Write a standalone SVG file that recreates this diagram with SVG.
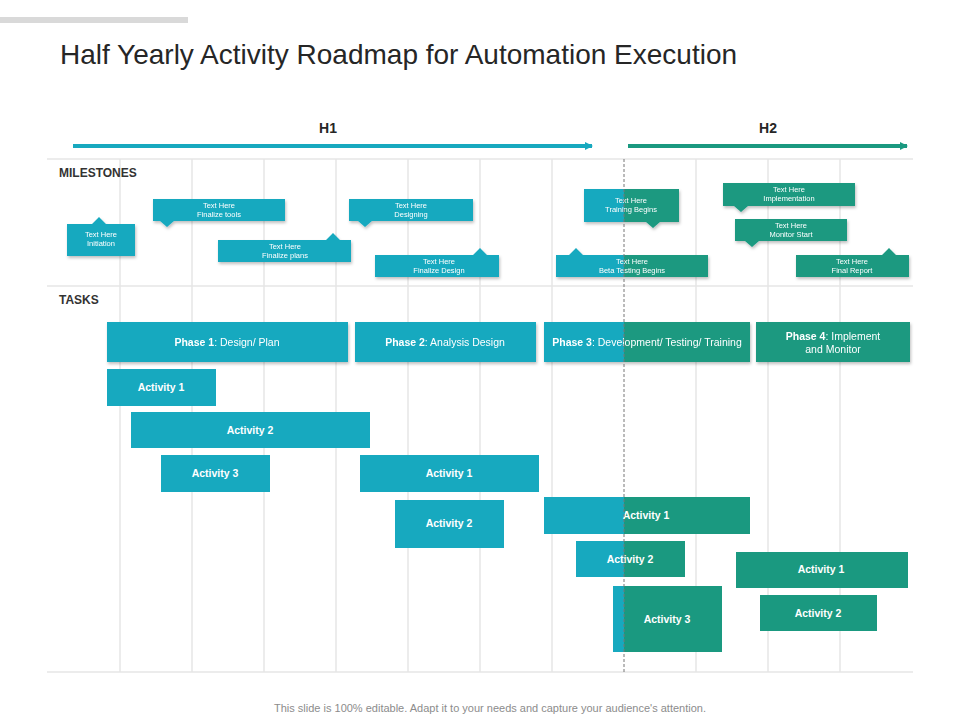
<svg xmlns="http://www.w3.org/2000/svg" width="960" height="720" viewBox="0 0 960 720">
<defs>
<filter id="sh" x="-10%" y="-20%" width="120%" height="150%"><feDropShadow dx="1" dy="2" stdDeviation="1.5" flood-color="#000" flood-opacity="0.25"/></filter>
<marker id="ab" markerWidth="8" markerHeight="8" refX="7" refY="4" orient="auto" markerUnits="userSpaceOnUse"><path d="M0,0 L8,4 L0,8 Z" fill="#17A9BF"/></marker>
<marker id="ag" markerWidth="8" markerHeight="8" refX="7" refY="4" orient="auto" markerUnits="userSpaceOnUse"><path d="M0,0 L8,4 L0,8 Z" fill="#1A9980"/></marker>
</defs>
<style>
text{font-family:"Liberation Sans",Arial,sans-serif}
.b{fill:#17A9BF}.g{fill:#1A9980}
.ms{fill:#fff;font-size:7.5px;text-anchor:middle}
.tk{fill:#fff;font-size:10.5px;font-weight:bold;text-anchor:middle}
.ph{fill:#fff;font-size:10.5px;text-anchor:middle}
.grid line{stroke:#E6E6E6;stroke-width:1.5}
</style>
<rect width="960" height="720" fill="#fff"/>
<rect x="0" y="17" width="188" height="6" fill="#D9D9D9"/>
<text x="60" y="64" font-size="28" fill="#262626">Half Yearly Activity Roadmap for Automation  Execution</text>
<g class="grid">
<line x1="120" y1="159" x2="120" y2="672"/><line x1="192" y1="159" x2="192" y2="672"/><line x1="264" y1="159" x2="264" y2="672"/><line x1="336" y1="159" x2="336" y2="672"/><line x1="408" y1="159" x2="408" y2="672"/><line x1="480" y1="159" x2="480" y2="672"/><line x1="552" y1="159" x2="552" y2="672"/><line x1="696" y1="159" x2="696" y2="672"/><line x1="768" y1="159" x2="768" y2="672"/><line x1="840" y1="159" x2="840" y2="672"/>
<line x1="47" y1="159" x2="913" y2="159"/><line x1="47" y1="286" x2="913" y2="286"/><line x1="47" y1="672" x2="913" y2="672"/>
</g>
<g id="connectors">
<line x1="73" y1="146" x2="592" y2="146" stroke="#17A9BF" stroke-width="4" marker-end="url(#ab)"/>
<line x1="628" y1="146" x2="907" y2="146" stroke="#1A9980" stroke-width="4" marker-end="url(#ag)"/>
</g>
<text x="328" y="133" font-size="14" font-weight="bold" fill="#262626" text-anchor="middle">H1</text>
<text x="768" y="133" font-size="14" font-weight="bold" fill="#262626" text-anchor="middle">H2</text>
<text x="59" y="177" font-size="12" font-weight="bold" fill="#333">MILESTONES</text>
<text x="59" y="304" font-size="12" font-weight="bold" fill="#333">TASKS</text>

<g id="m-initiation" filter="url(#sh)"><path class="b" d="M67,224 H92 L99,217 L106,224 H135 V256 H67 Z"/><text class="ms" x="101" y="237">Text Here</text><text class="ms" x="101" y="246">Initiation</text></g>
<g id="m-tools" filter="url(#sh)"><path class="b" d="M153,199 H285 V221 H174 L167,227 L160,221 H153 Z"/><text class="ms" x="219" y="208">Text Here</text><text class="ms" x="219" y="217">Finalize tools</text></g>
<g id="m-plans" filter="url(#sh)"><path class="b" d="M218,240 H326 L333,233 L340,240 H351 V262 H218 Z"/><text class="ms" x="285" y="249">Text Here</text><text class="ms" x="285" y="258">Finalize plans</text></g>
<g id="m-designing" filter="url(#sh)"><path class="b" d="M349,199 H473 V221 H372 L365,227 L358,221 H349 Z"/><text class="ms" x="411" y="208">Text Here</text><text class="ms" x="411" y="217">Designing</text></g>
<g id="m-fdesign" filter="url(#sh)"><path class="b" d="M375,255 H473 L480,248 L487,255 H499 V277 H375 Z"/><text class="ms" x="439" y="264">Text Here</text><text class="ms" x="439" y="273">Finalize Design</text></g>
<g id="m-training" filter="url(#sh)"><path class="b" d="M584,189 H624 V222 H584 Z"/><path class="g" d="M624,189 H679 V222 H660 L653,228 L646,222 H624 Z"/><text class="ms" x="631" y="203">Text Here</text><text class="ms" x="631" y="212">Training Begins</text></g>
<g id="m-beta" filter="url(#sh)"><path class="b" d="M556,255 H569 L576,248 L583,255 H624 V277 H556 Z"/><path class="g" d="M624,255 H708 V277 H624 Z"/><text class="ms" x="632" y="264">Text Here</text><text class="ms" x="632" y="273">Beta Testing Begins</text></g>
<g id="m-impl" filter="url(#sh)"><path class="g" d="M723,183 H855 V206 H748 L741,212 L734,206 H723 Z"/><text class="ms" x="789" y="192">Text Here</text><text class="ms" x="789" y="201">Implementation</text></g>
<g id="m-monitor" filter="url(#sh)"><path class="g" d="M735,219 H847 V241 H759 L752,247 L745,241 H735 Z"/><text class="ms" x="791" y="228">Text Here</text><text class="ms" x="791" y="237">Monitor Start</text></g>
<g id="m-final" filter="url(#sh)"><path class="g" d="M796,255 H882 L889,248 L896,255 H909 V277 H796 Z"/><text class="ms" x="852" y="264">Text Here</text><text class="ms" x="852" y="273">Final Report</text></g>

<g id="phase1" filter="url(#sh)"><rect class="b" x="107" y="322" width="241" height="40"/><text class="ph" x="227" y="346"><tspan font-weight="bold">Phase 1</tspan>: Design/ Plan</text></g>
<g id="phase2" filter="url(#sh)"><rect class="b" x="355" y="322" width="181" height="40"/><text class="ph" x="445" y="346"><tspan font-weight="bold">Phase 2</tspan>: Analysis Design</text></g>
<g id="phase3" filter="url(#sh)"><rect class="b" x="544" y="322" width="80" height="40"/><rect class="g" x="624" y="322" width="126" height="40"/><text class="ph" x="647" y="346"><tspan font-weight="bold">Phase 3</tspan>: Development/ Testing/ Training</text></g>
<g id="phase4" filter="url(#sh)"><rect class="g" x="756" y="322" width="154" height="40"/><text class="ph" x="833" y="340"><tspan font-weight="bold">Phase 4</tspan>: Implement</text><text class="ph" x="833" y="353">and Monitor</text></g>

<g id="p1a1"><rect class="b" x="107" y="369" width="109" height="37"/><text class="tk" x="161" y="391">Activity 1</text></g>
<g id="p1a2"><rect class="b" x="131" y="412" width="239" height="36"/><text class="tk" x="250" y="434">Activity 2</text></g>
<g id="p1a3"><rect class="b" x="161" y="455" width="109" height="37"/><text class="tk" x="215" y="477">Activity 3</text></g>
<g id="p2a1"><rect class="b" x="360" y="455" width="179" height="37"/><text class="tk" x="449" y="477">Activity 1</text></g>
<g id="p2a2"><rect class="b" x="395" y="500" width="109" height="48"/><text class="tk" x="449" y="527">Activity 2</text></g>
<g id="p3a1"><rect class="b" x="544" y="497" width="80" height="37"/><rect class="g" x="624" y="497" width="126" height="37"/><text class="tk" x="646" y="519">Activity 1</text></g>
<g id="p3a2"><rect class="b" x="576" y="541" width="48" height="36"/><rect class="g" x="624" y="541" width="61" height="36"/><text class="tk" x="630" y="563">Activity 2</text></g>
<g id="p3a3"><rect class="b" x="613" y="586" width="11" height="66"/><rect class="g" x="624" y="586" width="98" height="66"/><text class="tk" x="667" y="623">Activity 3</text></g>
<g id="p4a1"><rect class="g" x="736" y="552" width="172" height="36"/><text class="tk" x="821" y="573">Activity 1</text></g>
<g id="p4a2"><rect class="g" x="760" y="595" width="117" height="36"/><text class="tk" x="818" y="617">Activity 2</text></g>

<line x1="624" y1="159" x2="624" y2="672" stroke="#777" stroke-width="1" stroke-dasharray="3,2"/>
<text x="490" y="712" font-size="11" fill="#8C8C8C" text-anchor="middle">This slide is 100% editable. Adapt it to your needs and capture your audience's attention.</text>
</svg>
